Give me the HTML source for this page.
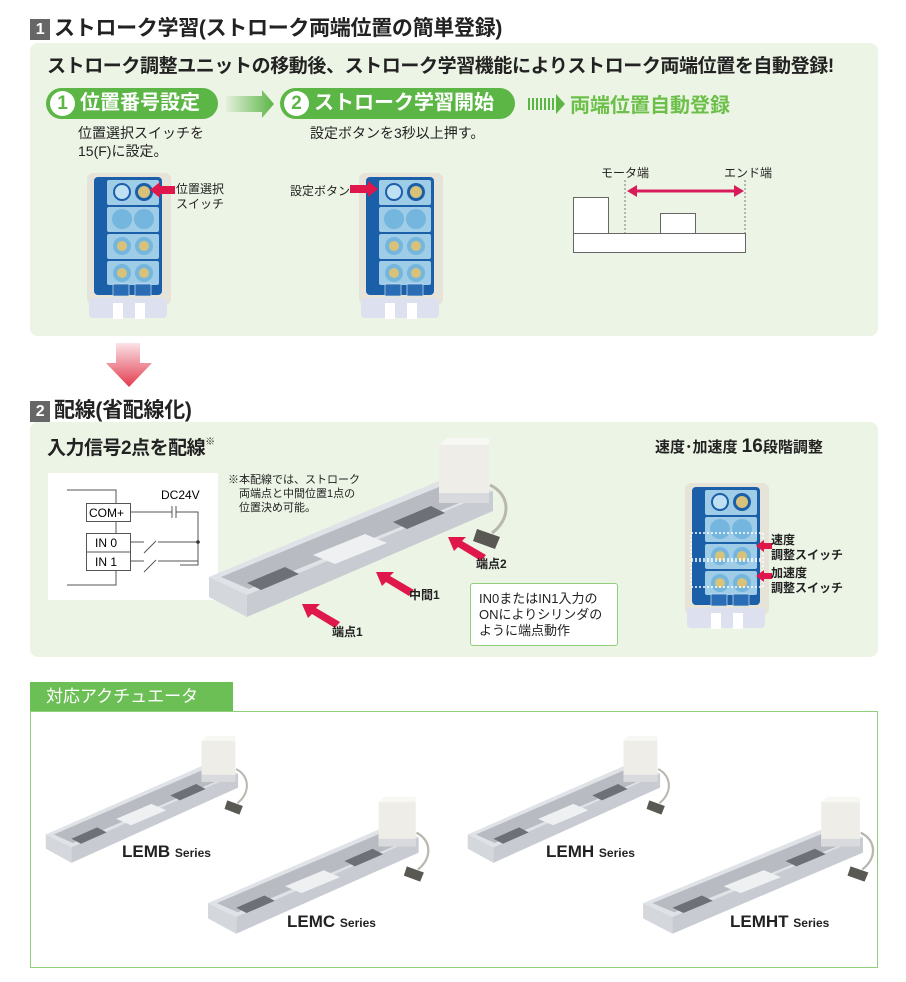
<!DOCTYPE html>
<html><head><meta charset="utf-8"><style>
body{margin:0;width:906px;height:982px;background:#fff;position:relative;font-family:"Liberation Sans","Noto Sans CJK JP",sans-serif;overflow:hidden;color:#222}
.a{position:absolute;white-space:nowrap}
.h{font-size:21px;font-weight:bold;color:#222;letter-spacing:-0.3px}
.num{display:inline-block;width:20px;height:21px;background:#666;color:#fff;text-align:center;line-height:21px;font-size:16px;margin-right:4px;vertical-align:middle}
.panel{position:absolute;background:#ecf4e5;border-radius:8px}
.pill{position:absolute;background:#5cb646;border-radius:16px;color:#fff;font-weight:bold;font-size:20px;height:31px;line-height:31px}
.pill .c{display:inline-block;width:25px;height:25px;border-radius:50%;background:#fff;color:#5cb646;text-align:center;line-height:25px;font-size:19px;margin:0 5px 0 4px;vertical-align:top;margin-top:3px}
.t15{font-size:14px;line-height:18px}
.lab{font-size:12px;line-height:15px}
</style></head><body>
<svg width="0" height="0" style="position:absolute">
<defs>
<linearGradient id="ga" x1="0" x2="1"><stop offset="0" stop-color="#e4efdc"/><stop offset="1" stop-color="#5cb646"/></linearGradient>
<linearGradient id="gd" x1="0" y1="0" x2="0" y2="1"><stop offset="0" stop-color="#fbe3e6"/><stop offset="1" stop-color="#e23a4e"/></linearGradient>
<symbol id="ctl" viewBox="0 0 86 146">
<rect x="2" y="0" width="84" height="132" rx="6" fill="#e6e4d8"/>
<rect x="4" y="125" width="78" height="20" rx="4" fill="#dde0ee"/>
<rect x="28" y="130" width="10" height="16" fill="#fff"/><rect x="50" y="130" width="10" height="16" fill="#fff"/>
<rect x="9" y="4" width="68" height="118" rx="4" fill="#1a5fa8"/>
<rect x="22" y="7" width="52" height="25" rx="2" fill="#9fcde8"/>
<rect x="22" y="34" width="52" height="25" rx="2" fill="#9fcde8"/>
<rect x="22" y="61" width="52" height="25" rx="2" fill="#9fcde8"/>
<rect x="22" y="88" width="52" height="24" rx="2" fill="#9fcde8"/>
<circle cx="37" cy="19" r="9" fill="#1a5fa8"/><circle cx="37" cy="19" r="7" fill="#bfe0f3"/>
<circle cx="59" cy="19" r="9" fill="#1a5fa8"/><circle cx="59" cy="19" r="6" fill="#d8c27a"/>
<circle cx="37" cy="46" r="10" fill="#74b6dd"/><circle cx="59" cy="46" r="10" fill="#74b6dd"/>
<circle cx="37" cy="73" r="9" fill="#74b6dd"/><circle cx="37" cy="73" r="5" fill="#d8c27a"/>
<circle cx="59" cy="73" r="9" fill="#74b6dd"/><circle cx="59" cy="73" r="5" fill="#d8c27a"/>
<circle cx="37" cy="100" r="9" fill="#74b6dd"/><circle cx="37" cy="100" r="5" fill="#d8c27a"/>
<circle cx="59" cy="100" r="9" fill="#74b6dd"/><circle cx="59" cy="100" r="5" fill="#d8c27a"/>
<rect x="28" y="111" width="16" height="12" fill="#2a6db4" stroke="#cfe4f2" stroke-width="0.7"/>
<rect x="50" y="111" width="16" height="12" fill="#2a6db4" stroke="#cfe4f2" stroke-width="0.7"/>
</symbol>
<symbol id="act" viewBox="0 0 310 183">
<path d="M285 48 C306 58 306 82 287 96" fill="none" stroke="#b8b8b0" stroke-width="3"/>
<polygon points="272,92 295,100 290,112 268,104" fill="#5a5852"/>
<polygon points="4,140 248,38 288,54 42,158" fill="#dfe2e6"/>
<polygon points="16,140 246,45 276,57 44,152" fill="#b8bcc2"/>
<polygon points="42,158 288,54 288,74 42,180" fill="#c8ccd2"/>
<polygon points="4,140 42,158 42,180 4,160" fill="#d4d7dc"/>
<polygon points="108,118 160,97 182,106 130,127" fill="#eef0f2"/>
<polygon points="42,146 80,130 94,137 56,153" fill="#6d7076"/>
<polygon points="188,85 226,69 240,76 202,92" fill="#6d7076"/>
<rect x="234" y="8" width="50" height="56" fill="#eeede8"/>
<polygon points="234,8 242,1 284,1 284,8" fill="#f7f7f4"/>
<rect x="234" y="56" width="50" height="10" fill="#d9dade"/>
</symbol>
</defs></svg>

<div class="a h" style="left:30px;top:12px"><span class="num">1</span>ストローク学習(ストローク両端位置の簡単登録)</div>
<div class="panel" style="left:30px;top:43px;width:848px;height:293px"></div>
<div class="a" style="left:47px;top:51px;font-size:19px;font-weight:bold;letter-spacing:-0.4px">ストローク調整ユニットの移動後、ストローク学習機能によりストローク両端位置を自動登録!</div>
<div class="pill" style="left:46px;top:88px;width:172px"><span class="c">1</span>位置番号設定</div>
<svg class="a" style="left:226px;top:90px" width="50" height="28"><polygon points="0,6 36,6 36,0 48,14 36,28 36,22 0,22" fill="url(#ga)"/></svg>
<div class="pill" style="left:280px;top:88px;width:235px"><span class="c">2</span>ストローク学習開始</div>
<svg class="a" style="left:528px;top:92px" width="40" height="24"><g fill="#5cb646"><rect x="0" y="6" width="2" height="12"/><rect x="4" y="6" width="2" height="12"/><rect x="8" y="6" width="2" height="12"/><rect x="12" y="6" width="2" height="12"/><rect x="16" y="6" width="2" height="12"/><rect x="20" y="6" width="2" height="12"/><rect x="24" y="6" width="2" height="12"/><polygon points="28,2 37,12 28,22"/></g></svg>
<div class="a" style="left:570px;top:89px;font-size:20px;font-weight:bold;color:#6cc04a">両端位置自動登録</div>
<div class="a t15" style="left:78px;top:124px">位置選択スイッチを<br>15(F)に設定。</div>
<div class="a t15" style="left:310px;top:124px">設定ボタンを3秒以上押す。</div>

<svg class="a" style="left:85px;top:173px" width="86" height="146"><use href="#ctl"/></svg>
<svg class="a" style="left:357px;top:173px" width="86" height="146"><use href="#ctl"/></svg>
<svg class="a" style="left:150px;top:182px" width="25" height="16"><polygon points="0,8 10,0 10,4 25,4 25,12 10,12 10,16" fill="#e0174a"/></svg>
<div class="a lab" style="left:176px;top:182px">位置選択<br>スイッチ</div>
<div class="a" style="left:290px;top:182px;font-size:12px">設定ボタン</div>
<svg class="a" style="left:350px;top:181px" width="30" height="16"><polygon points="0,4 18,4 18,0 28,8 18,16 18,12 0,12" fill="#e0174a"/></svg>

<div class="a" style="left:601px;top:164px;font-size:12px">モータ端</div>
<div class="a" style="left:724px;top:164px;font-size:12px">エンド端</div>
<svg class="a" style="left:570px;top:178px" width="185" height="78">
<line x1="55" y1="2" x2="55" y2="55" stroke="#777" stroke-dasharray="2,2"/>
<line x1="175" y1="2" x2="175" y2="55" stroke="#777" stroke-dasharray="2,2"/>
<line x1="64" y1="13" x2="167" y2="13" stroke="#d81b5a" stroke-width="3"/>
<polygon points="57,13 67,7 67,19" fill="#d81b5a"/><polygon points="174,13 164,7 164,19" fill="#d81b5a"/>
<rect x="3.5" y="19.5" width="35" height="36" fill="#fff" stroke="#666"/>
<rect x="90.5" y="35.5" width="35" height="20" fill="#fff" stroke="#666"/>
<rect x="3.5" y="55.5" width="172" height="19" fill="#fff" stroke="#666"/>
</svg>

<svg class="a" style="left:106px;top:343px" width="46" height="44"><polygon points="10,0 34,0 34,20 46,20 23,44 0,20 10,20" fill="url(#gd)"/></svg>
<div class="a h" style="left:30px;top:394px"><span class="num">2</span>配線(省配線化)</div>
<div class="panel" style="left:30px;top:422px;width:848px;height:235px"></div>
<div class="a" style="left:47px;top:433px;font-size:19px;font-weight:bold;letter-spacing:-0.5px">入力信号2点を配線<span style="font-size:10px;vertical-align:top">※</span></div>
<div class="a" style="left:655px;top:436px;font-size:15px;font-weight:bold">速度･加速度 <span style="font-size:19px">16</span>段階調整</div>

<div class="a" style="left:48px;top:473px;width:170px;height:127px;background:#fff"></div>
<svg class="a" style="left:48px;top:473px" width="170" height="127" font-family="Liberation Sans" font-size="12">
<polyline points="19,17 68,17 68,30" fill="none" stroke="#555"/>
<rect x="38.5" y="30.5" width="44" height="18" fill="#fff" stroke="#555"/>
<text x="41" y="44">COM+</text>
<line x1="82" y1="39" x2="124" y2="39" stroke="#555"/>
<line x1="124" y1="33" x2="124" y2="45" stroke="#555"/><line x1="128" y1="33" x2="128" y2="45" stroke="#555"/>
<polyline points="128,39 150,39 150,92 132,92" fill="none" stroke="#555"/>
<text x="113" y="26">DC24V</text>
<rect x="38.5" y="60.5" width="44" height="37" fill="#fff" stroke="#555"/>
<line x1="38" y1="79" x2="82" y2="79" stroke="#555"/>
<text x="47" y="74">IN 0</text><text x="47" y="93">IN 1</text>
<line x1="82" y1="69" x2="96" y2="69" stroke="#555"/><line x1="96" y1="80" x2="108" y2="68" stroke="#555"/><line x1="110" y1="69" x2="150" y2="69" stroke="#555"/>
<line x1="82" y1="88" x2="96" y2="88" stroke="#555"/><line x1="96" y1="99" x2="108" y2="87" stroke="#555"/><line x1="110" y1="88" x2="150" y2="88" stroke="#555"/>
<circle cx="150" cy="69" r="1.8" fill="#333"/>
<polyline points="68,48 68,60" fill="none" stroke="#555"/>
<polyline points="68,97 68,112 19,112" fill="none" stroke="#555"/>
</svg>
<div class="a" style="left:228px;top:473px;font-size:11px;line-height:14px">※本配線では、ストローク<br>　両端点と中間位置1点の<br>　位置決め可能。</div>

<svg class="a" style="left:205px;top:437px" width="310" height="183"><use href="#act"/></svg>
<svg class="a" style="left:448px;top:535px" width="38" height="26"><polygon points="0,2 18,2 14,6 38,20 33,26 10,12 6,16" fill="#e0174a"/></svg>
<svg class="a" style="left:376px;top:570px" width="38" height="26"><polygon points="0,2 18,2 14,6 38,20 33,26 10,12 6,16" fill="#e0174a"/></svg>
<svg class="a" style="left:302px;top:602px" width="38" height="26"><polygon points="0,2 18,2 14,6 38,20 33,26 10,12 6,16" fill="#e0174a"/></svg>
<div class="a lab" style="left:476px;top:557px;font-weight:bold">端点2</div>
<div class="a lab" style="left:409px;top:588px;font-weight:bold">中間1</div>
<div class="a lab" style="left:332px;top:625px;font-weight:bold">端点1</div>
<div class="a" style="left:470px;top:583px;width:146px;height:61px;background:#fff;border:1px solid #8fcf7b;border-radius:3px"></div>
<div class="a" style="left:479px;top:591px;font-size:13px;line-height:16px">IN0またはIN1入力の<br>ONによりシリンダの<br>ように端点動作</div>

<svg class="a" style="left:683px;top:483px" width="86" height="146"><use href="#ctl"/></svg>
<svg class="a" style="left:690px;top:532px" width="80" height="58"><rect x="1" y="1" width="72" height="26" fill="none" stroke="#fff" stroke-width="1.5" stroke-dasharray="2,2"/><rect x="1" y="29" width="72" height="26" fill="none" stroke="#fff" stroke-width="1.5" stroke-dasharray="2,2"/></svg>
<svg class="a" style="left:756px;top:538px" width="16" height="48"><polygon points="0,8 8,2 8,5 16,5 16,11 8,11 8,14" fill="#e0174a"/><polygon points="0,38 8,32 8,35 16,35 16,41 8,41 8,44" fill="#e0174a"/></svg>
<div class="a lab" style="left:771px;top:533px;font-weight:bold">速度<br>調整スイッチ</div>
<div class="a lab" style="left:771px;top:566px;font-weight:bold">加速度<br>調整スイッチ</div>

<div class="a" style="left:30px;top:682px;width:203px;height:29px;background:#6cbf55;color:#fff;font-size:17px;line-height:29px;text-indent:16px">対応アクチュエータ</div>
<div class="a" style="left:30px;top:711px;width:846px;height:255px;border:1px solid #8fd07a"></div>
<svg class="a" style="left:43px;top:735px" width="210" height="130" viewBox="0 0 310 183" preserveAspectRatio="none"><use href="#act"/></svg>
<svg class="a" style="left:205px;top:796px" width="230" height="140" viewBox="0 0 310 183" preserveAspectRatio="none"><use href="#act"/></svg>
<svg class="a" style="left:465px;top:735px" width="210" height="130" viewBox="0 0 310 183" preserveAspectRatio="none"><use href="#act"/></svg>
<svg class="a" style="left:640px;top:796px" width="240" height="140" viewBox="0 0 310 183" preserveAspectRatio="none"><use href="#act"/></svg>
<div class="a" style="left:122px;top:842px;font-size:17px;font-weight:bold">LEMB <span style="font-size:12px">Series</span></div>
<div class="a" style="left:287px;top:912px;font-size:17px;font-weight:bold">LEMC <span style="font-size:12px">Series</span></div>
<div class="a" style="left:546px;top:842px;font-size:17px;font-weight:bold">LEMH <span style="font-size:12px">Series</span></div>
<div class="a" style="left:730px;top:912px;font-size:17px;font-weight:bold">LEMHT <span style="font-size:12px">Series</span></div>
</body></html>
